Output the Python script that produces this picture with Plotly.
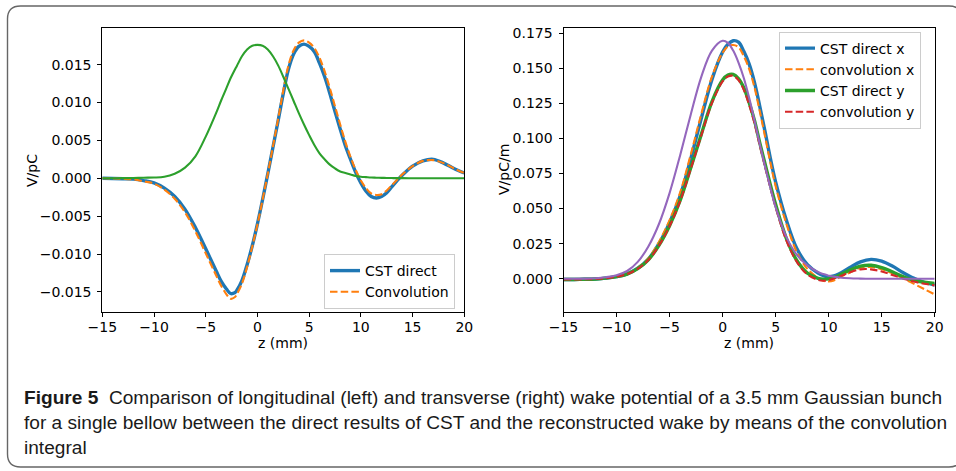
import plotly.graph_objects as go

# ---------------- data ----------------
z_left = [-15, -14, -13, -12, -11, -10, -9, -8, -7, -6, -5, -4, -3.5, -3, -2.6, -2.2, -2, -1.5, -1, -0.5,
          0, 0.5, 1, 1.5, 2, 2.5, 3, 3.5, 4, 4.5, 5, 5.5, 6, 6.5, 7, 7.5, 8, 8.5, 9, 9.5, 10, 10.5,
          11, 11.5, 12, 12.5, 13, 13.5, 14, 15, 16, 17, 18, 19, 20]
cst_direct_long = [0.0, -0.00002, -0.00005, -0.0001, -0.0003, -0.0006, -0.0013, -0.0024, -0.0041,
                   -0.0065, -0.0093, -0.0122, -0.0136, -0.0146, -0.0152, -0.0151, -0.0148, -0.0135,
                   -0.0114, -0.0089, -0.0060, -0.0028, 0.0006, 0.0041, 0.0076, 0.0112, 0.0144,
                   0.0164, 0.0174, 0.0177, 0.0174, 0.0167, 0.0152, 0.0134, 0.0112, 0.0088, 0.0065,
                   0.0043, 0.0025, 0.0008, -0.0006, -0.0017, -0.0024, -0.0026, -0.0024, -0.0019,
                   -0.0011, -0.0003, 0.0004, 0.0016, 0.0023, 0.0025, 0.0020, 0.0013, 0.0007]
convolution_long = [0.0, -0.00002, -0.00006, -0.00015, -0.0004, -0.0007, -0.0015, -0.0027, -0.0045,
                    -0.0070, -0.0099, -0.0128, -0.0142, -0.0153, -0.0159, -0.0157, -0.0153, -0.0139,
                    -0.0117, -0.0090, -0.0061, -0.0028, 0.0006, 0.0042, 0.0078, 0.0116, 0.0149,
                    0.0169, 0.0179, 0.0182, 0.0179, 0.0172, 0.0159, 0.0141, 0.0119, 0.0095, 0.0071,
                    0.0048, 0.0028, 0.0011, -0.0003, -0.0013, -0.0020, -0.0022, -0.0021, -0.0016,
                    -0.0009, -0.0002, 0.0005, 0.0016, 0.0023, 0.0024, 0.0020, 0.0013, 0.0007]
bunch_long = [0.0, 0.00001, 0.00002, 0.00004, 0.00008, 0.0001, 0.0002, 0.0006, 0.0014, 0.0029, 0.0055,
              0.0086, 0.0103, 0.0119, 0.0132, 0.0143, 0.0148, 0.0161, 0.0170, 0.0175, 0.0176, 0.0175,
              0.0170, 0.0161, 0.0149, 0.0134, 0.0118, 0.0102, 0.0086, 0.0071, 0.0057, 0.0044, 0.0033,
              0.0025, 0.0018, 0.0013, 0.0009, 0.0007, 0.0005, 0.0003, 0.0002, 0.00015, 0.0001,
              0.00008, 0.00006, 0.00004, 0.00003, 0.00002, 0.00002, 0.00001, 0.0, 0.0, 0.0, 0.0, 0.0]

z_right = [-15, -14, -13, -12, -11, -10, -9, -8, -7, -6, -5, -4, -3, -2, -1, 0, 0.5, 1, 1.5, 2, 2.5, 3,
           3.5, 4, 4.5, 5, 6, 7, 8, 9, 9.5, 10, 10.5, 11, 12, 13, 14, 15, 16, 17, 18, 19, 20]
cst_direct_x = [-0.0005, -0.0005, -0.0004, -0.0002, 0.0004, 0.0015, 0.0035, 0.0075, 0.0140, 0.0250,
                0.0400, 0.0590, 0.0855, 0.1145, 0.1420, 0.1615, 0.1670, 0.1695, 0.1685, 0.1620,
                0.1530, 0.1400, 0.1230, 0.1050, 0.0860, 0.0690, 0.0420, 0.0215, 0.0100, 0.0040,
                0.0022, 0.0014, 0.0020, 0.0035, 0.0080, 0.0120, 0.0138, 0.0125, 0.0090, 0.0045,
                0.0005, -0.0025, -0.0045]
convolution_x = [-0.0005, -0.0005, -0.0004, -0.0002, 0.0005, 0.0016, 0.0037, 0.0078, 0.0146, 0.0262,
                 0.0418, 0.0615, 0.0885, 0.1175, 0.1440, 0.1610, 0.1655, 0.1665, 0.1650, 0.1585,
                 0.1495, 0.1365, 0.1195, 0.1015, 0.0830, 0.0660, 0.0395, 0.0190, 0.0070, 0.0005,
                 -0.0015, -0.0020, -0.0012, 0.0008, 0.0045, 0.0078, 0.0084, 0.0068, 0.0038, 0.0003,
                 -0.0035, -0.0073, -0.0112]
cst_direct_y = [-0.0005, -0.0005, -0.0004, -0.0002, 0.0004, 0.0015, 0.0033, 0.0072, 0.0135, 0.0238,
                0.0378, 0.0558, 0.0790, 0.1030, 0.1262, 0.1415, 0.1450, 0.1455, 0.1425, 0.1360,
                0.1255, 0.1130, 0.0970, 0.0820, 0.0670, 0.0530, 0.0290, 0.0130, 0.0040, 0.0003,
                -0.0004, -0.0001, 0.0010, 0.0025, 0.0062, 0.0090, 0.0096, 0.0080, 0.0050, 0.0015,
                -0.0010, -0.0025, -0.0033]
convolution_y = [-0.0005, -0.0005, -0.0004, -0.0002, 0.0004, 0.0015, 0.0033, 0.0071, 0.0133, 0.0235,
                 0.0374, 0.0553, 0.0783, 0.1022, 0.1252, 0.1405, 0.1440, 0.1445, 0.1415, 0.1345,
                 0.1240, 0.1110, 0.0950, 0.0800, 0.0650, 0.0510, 0.0275, 0.0120, 0.0030, -0.0008,
                 -0.0014, -0.0010, 0.0002, 0.0015, 0.0045, 0.0067, 0.0067, 0.0052, 0.0027, 0.0002,
                 -0.0020, -0.0036, -0.0047]
bunch_trans = [0.0, 0.0, 0.0001, 0.0004, 0.0011, 0.0025, 0.0055, 0.0120, 0.0230, 0.0390, 0.0610,
               0.0880, 0.1170, 0.1440, 0.1625, 0.1695, 0.1680, 0.1625, 0.1540, 0.1430, 0.1290,
               0.1130, 0.0960, 0.0800, 0.0650, 0.0510, 0.0300, 0.0170, 0.0095, 0.0048, 0.0033,
               0.0022, 0.0015, 0.0009, 0.0003, 0.0001, 0.0, 0.0, 0.0, 0.0, 0.0, 0.0, 0.0]

x_ticks = [-15, -10, -5, 0, 5, 10, 15, 20]
caption_lines = [
    "<b>Figure 5</b>  Comparison of longitudinal (left) and transverse (right) wake potential of a 3.5 mm Gaussian bunch",
    "for a single bellow between the direct results of CST and the reconstructed wake by means of the convolution",
    "integral",
]

# ---------------- styling ----------------
W, H = 956, 471
BLUE, ORANGE, GREEN, RED, PURPLE = "#1f77b4", "#ff7f0e", "#2ca02c", "#d62728", "#9467bd"
FONT = "DejaVu Sans"
DASH = "7.5px,3.2px"
SM = 1.0


def px(x):
    return x / W


def py(y):
    return 1 - y / H


fig = go.Figure()

# left panel
fig.add_trace(go.Scatter(x=z_left, y=cst_direct_long, name="CST direct", mode="lines",
                         line=dict(color=BLUE, width=3.4, shape="spline", smoothing=SM),
                         xaxis="x", yaxis="y", legend="legend"))
fig.add_trace(go.Scatter(x=z_left, y=convolution_long, name="Convolution", mode="lines",
                         line=dict(color=ORANGE, width=2.1, dash=DASH, shape="spline", smoothing=SM),
                         xaxis="x", yaxis="y", legend="legend"))
fig.add_trace(go.Scatter(x=z_left, y=bunch_long, name="bunch", mode="lines", showlegend=False,
                         line=dict(color=GREEN, width=2.1, shape="spline", smoothing=SM),
                         xaxis="x", yaxis="y"))

# right panel
fig.add_trace(go.Scatter(x=z_right, y=cst_direct_x, name="CST direct x", mode="lines",
                         line=dict(color=BLUE, width=3.4, shape="spline", smoothing=SM),
                         xaxis="x2", yaxis="y2", legend="legend2"))
fig.add_trace(go.Scatter(x=z_right, y=convolution_x, name="convolution x", mode="lines",
                         line=dict(color=ORANGE, width=2.1, dash=DASH, shape="spline", smoothing=SM),
                         xaxis="x2", yaxis="y2", legend="legend2"))
fig.add_trace(go.Scatter(x=z_right, y=cst_direct_y, name="CST direct y", mode="lines",
                         line=dict(color=GREEN, width=3.4, shape="spline", smoothing=SM),
                         xaxis="x2", yaxis="y2", legend="legend2"))
fig.add_trace(go.Scatter(x=z_right, y=convolution_y, name="convolution y", mode="lines",
                         line=dict(color=RED, width=2.1, dash=DASH, shape="spline", smoothing=SM),
                         xaxis="x2", yaxis="y2", legend="legend2"))
fig.add_trace(go.Scatter(x=z_right, y=bunch_trans, name="bunch", mode="lines", showlegend=False,
                         line=dict(color=PURPLE, width=2.1, shape="spline", smoothing=SM),
                         xaxis="x2", yaxis="y2"))

axis_common = dict(showline=True, linecolor="black", linewidth=1, mirror=True, ticks="outside",
                   ticklen=4, tickwidth=1, tickcolor="black", showgrid=False, zeroline=False,
                   automargin=False, tickfont=dict(family=FONT, size=14, color="black"))

fig.update_layout(
    width=W, height=H,
    margin=dict(l=0, r=0, t=0, b=0, autoexpand=False),
    paper_bgcolor="white", plot_bgcolor="white",
    font=dict(family=FONT, size=14, color="black"),
    xaxis=dict(domain=[px(102.3), px(464.3)], range=[-15, 20], tickvals=x_ticks, anchor="y",
               ticklabelstandoff=-2, **axis_common),
    yaxis=dict(domain=[py(312.3), py(27.7)], range=[-0.01768, 0.01987], dtick=0.005, tickformat=".3f",
               anchor="x", ticklabelstandoff=3, **axis_common),
    xaxis2=dict(domain=[px(563.5), px(934.7)], range=[-15, 20], tickvals=x_ticks, anchor="y2",
                ticklabelstandoff=-2, **axis_common),
    yaxis2=dict(domain=[py(312.3), py(27.7)], range=[-0.0239, 0.1788], dtick=0.025, tickformat=".3f",
                anchor="x2", ticklabelstandoff=3, **axis_common),
    legend=dict(x=px(455), y=py(309), xanchor="right", yanchor="bottom", bgcolor="rgba(255,255,255,0.8)",
                bordercolor="#cccccc", borderwidth=1, font=dict(family=FONT, size=14, color="black"),
                tracegroupgap=0, itemwidth=30),
    legend2=dict(x=px(921), y=py(31.5), xanchor="right", yanchor="top", bgcolor="rgba(255,255,255,0.8)",
                 bordercolor="#cccccc", borderwidth=1, font=dict(family=FONT, size=14, color="black"),
                 tracegroupgap=0, itemwidth=30),
)

# axis titles
for txt, xx, yy, ang in [("z (mm)", 283.3, 343, 0), ("z (mm)", 749, 343, 0),
                         ("V/pC", 32, 170, -90), ("V/pC/m", 504, 170, -90)]:
    fig.add_annotation(text=txt, x=px(xx), y=py(yy), xref="paper", yref="paper", showarrow=False,
                       xanchor="center", yanchor="middle", textangle=ang,
                       font=dict(family=FONT, size=14, color="black"))

# caption
for i, line in enumerate(caption_lines):
    fig.add_annotation(text=line, x=px(22), y=py(397 + 25 * i), xref="paper", yref="paper",
                       xanchor="left", yanchor="middle", showarrow=False,
                       font=dict(family="Liberation Sans", size=19.1, color="#1a1a1a"))

# rounded outer frame
x0, y0, x1, y1, r = 7.5, 6.0, 962.0, 467.0, 13.0
path = (f"M {px(x0 + r)} {py(y0)} L {px(x1 - r)} {py(y0)} "
        f"Q {px(x1)} {py(y0)} {px(x1)} {py(y0 + r)} L {px(x1)} {py(y1 - r)} "
        f"Q {px(x1)} {py(y1)} {px(x1 - r)} {py(y1)} L {px(x0 + r)} {py(y1)} "
        f"Q {px(x0)} {py(y1)} {px(x0)} {py(y1 - r)} L {px(x0)} {py(y0 + r)} "
        f"Q {px(x0)} {py(y0)} {px(x0 + r)} {py(y0)} Z")
fig.add_shape(type="path", path=path, xref="paper", yref="paper", line=dict(color="#666666", width=1.4),
              layer="below")

fig.write_html("out.html", config={"displayModeBar": False},
               post_script="document.body.style.margin='0';document.body.style.padding='0';")
